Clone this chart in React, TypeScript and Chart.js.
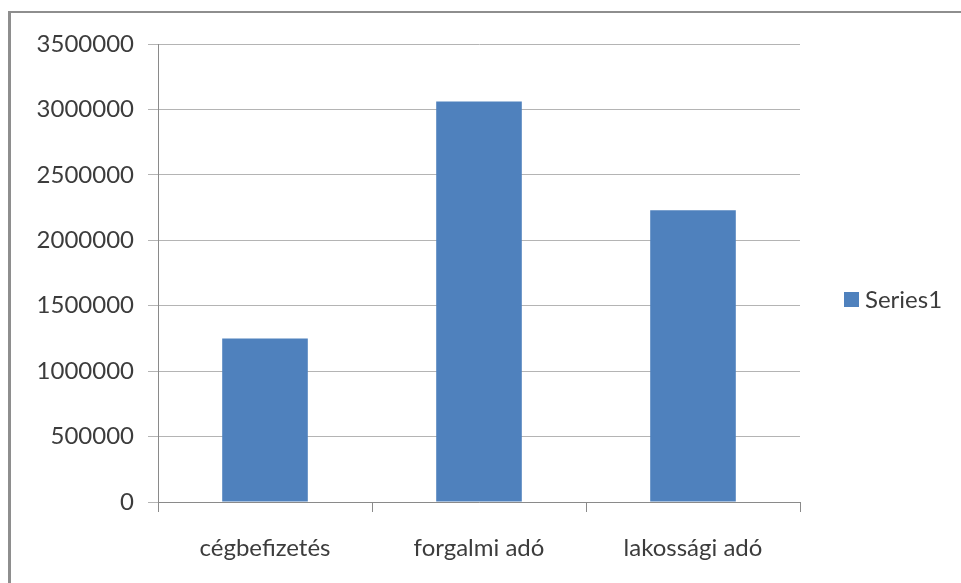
import React, { useEffect, useRef } from "react";
import { Chart, registerables } from "chart.js";

Chart.register(...registerables);

const categories = ["cégbefizetés", "forgalmi adó", "lakossági adó"];
const seriesName = "Series1";
const seriesValues = [1250000, 3060000, 2230000];
const yTicksMin = 0;
const yTicksMax = 3500000;
const yTickStep = 500000;

const FONT = "Lato, 'Open Sans', sans-serif";
const TEXT = "#3c3c3c";
const BAR = "#4f81bd";

const legendPlugin = {
  id: "excelLegend",
  afterDraw(chart: any) {
    const ctx = chart.ctx;
    const ds = chart.data.datasets[0];
    ctx.save();
    ctx.fillStyle = ds.backgroundColor;
    ctx.fillRect(844, 292, 15, 15);
    ctx.fillStyle = TEXT;
    ctx.font = `24px ${FONT}`;
    ctx.textBaseline = "middle";
    ctx.textAlign = "left";
    ctx.fillText(ds.label, 865, 300);
    ctx.restore();
  },
};

export default function App() {
  const ref = useRef<HTMLCanvasElement | null>(null);
  useEffect(() => {
    if (!ref.current) return;
    const chart = new Chart(ref.current, {
      type: "bar",
      data: {
        labels: categories,
        datasets: [
          {
            label: seriesName,
            data: seriesValues,
            backgroundColor: BAR,
            borderWidth: 0,
            barPercentage: 1,
            categoryPercentage: 0.4,
          },
        ],
      },
      options: {
        animation: false,
        responsive: false,
        layout: { padding: { left: 0, right: 161, top: 44, bottom: 0 } },
        plugins: { legend: { display: false }, tooltip: { enabled: false } },
        scales: {
          x: {
            afterFit(scale: any) {
              scale.height = 81;
            },
            grid: {
              drawOnChartArea: false,
              drawTicks: true,
              tickLength: 10,
              color: "#8a8a8a",
              offset: true,
            },
            border: { color: "#8a8a8a", width: 1 },
            ticks: {
              color: TEXT,
              font: { family: FONT, size: 24 },
              padding: 22,
              maxRotation: 0,
            },
          },
          y: {
            min: yTicksMin,
            max: yTicksMax,
            afterFit(scale: any) {
              scale.width = 158;
            },
            grid: {
              color: "#b4b4b4",
              tickLength: 10,
              lineWidth: 1,
            },
            border: { color: "#8a8a8a", width: 1 },
            ticks: {
              stepSize: yTickStep,
              color: TEXT,
              font: { family: FONT, size: 24 },
              padding: 14,
              callback: (v: any) => String(v),
            },
          },
        },
      },
      plugins: [legendPlugin],
    });
    return () => chart.destroy();
  }, []);

  return (
    <div style={{ position: "fixed", left: 0, top: 0, width: 961, height: 583, background: "#fff", overflow: "hidden" }}>
      <div
        style={{
          position: "absolute",
          left: 8,
          top: 11,
          width: 1000,
          height: 700,
          borderLeft: "3px solid #8e8e8e",
          borderTop: "2px solid #8e8e8e",
          boxSizing: "border-box",
        }}
      />
      <canvas ref={ref} width={961} height={583} style={{ position: "absolute", left: 0, top: 0, width: 961, height: 583 }} />
    </div>
  );
}
